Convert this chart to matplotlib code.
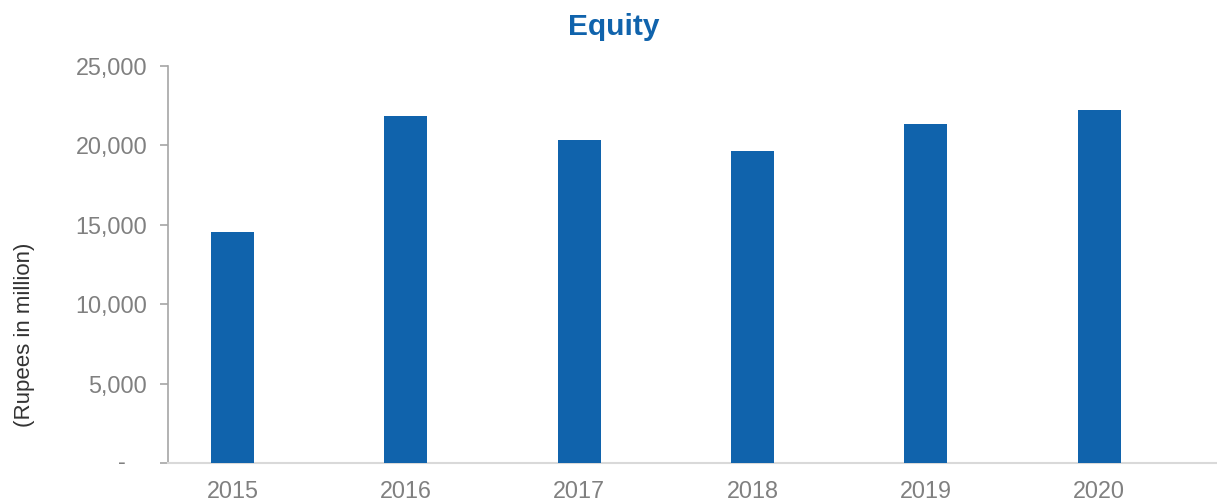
import matplotlib
matplotlib.use("Agg")
import matplotlib.pyplot as plt
from matplotlib.ticker import FuncFormatter

years = ["2015", "2016", "2017", "2018", "2019", "2020"]
equity = [14550, 21850, 20340, 19650, 21350, 22210]
yticks = [0, 5000, 10000, 15000, 20000, 25000]

plt.rcParams['font.family'] = ['Liberation Sans', 'DejaVu Sans']

fig = plt.figure(figsize=(12.17, 5.03), dpi=100)
ax = fig.add_axes([168/1217, 40/503, 1 - 168/1217, (463-66)/503])

x = list(range(len(years)))
ax.bar(x, equity, width=0.248, color='#1063AC', zorder=3)

ax.set_ylim(0, 25000)
ax.set_xlim(-0.373, 5.68)
ax.set_yticks(yticks)
ax.yaxis.set_major_formatter(FuncFormatter(
    lambda v, p: "" if v == 0 else f"{int(v):,}"))
ax.set_xticks(x)
ax.set_xticklabels(years)

# zero shown as a dash (accounting format)
ax.annotate("-", xy=(0, 0), xycoords=('axes fraction', 'data'),
            xytext=(-46, 0), textcoords='offset pixels',
            ha='center', va='center', fontsize=16.8, color='#808080')

for s in ['top', 'right']:
    ax.spines[s].set_visible(False)
ax.spines['left'].set_color('#A6A6A6')
ax.spines['left'].set_linewidth(1.2)
ax.spines['bottom'].set_color('#D9D9D9')
ax.spines['bottom'].set_linewidth(1.5)

ax.tick_params(axis='y', direction='out', length=6, width=1.2, color='#A6A6A6',
               labelsize=16.8, labelcolor='#808080', pad=9)
ax.tick_params(axis='x', length=0, labelsize=16.8, labelcolor='#808080', pad=12)

fig.text(614/1217, 1 - 27/503, "Equity", ha='center', va='center',
         fontsize=21.5, fontweight='bold', color='#1063AC')
fig.text(25/1217, 1 - 335/503, "(Rupees in million)", ha='center', va='center',
         rotation=90, fontsize=16, color='#333333')

fig.savefig("out.png", dpi=100)
